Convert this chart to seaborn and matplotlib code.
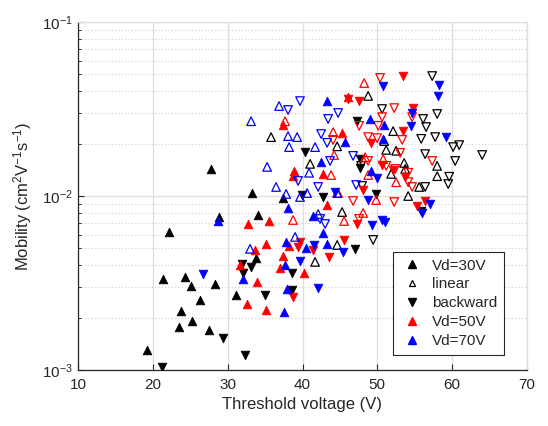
import numpy as np
import pandas as pd
import matplotlib
matplotlib.use("Agg")
import matplotlib.pyplot as plt
from matplotlib.lines import Line2D
from matplotlib.ticker import LogLocator, FixedLocator, NullFormatter, FuncFormatter
import seaborn as sns

# ---------------- data (threshold voltage [V], mobility [cm2/Vs]) ----------------
# Vd = 30 V, black
k_fwd_v = [27.74, 28.89, 22.21, 21.32, 24.26, 25.11, 28.28, 26.27, 23.77, 25.24, 23.54, 27.47, 19.18, 33.22, 34.02, 33.73, 31.06, 37.37]
k_fwd_m = [0.0143, 0.00755, 0.00621, 0.00333, 0.00341, 0.00305, 0.00313, 0.00254, 0.00217, 0.00192, 0.00176, 0.00170, 0.00130, 0.01044, 0.00781, 0.00443, 0.00270, 0.00977]
k_lin_v = [48.77, 52.11, 50.91, 51.18, 52.51, 53.58, 53.72, 51.84, 57.99, 58.0, 55.59, 54.12, 35.80, 44.63, 41.02, 45.29, 44.63, 41.68]
k_lin_m = [0.0376, 0.0236, 0.0207, 0.0184, 0.0182, 0.0155, 0.0143, 0.0134, 0.0149, 0.0130, 0.01127, 0.0100, 0.0218, 0.0193, 0.0153, 0.00809, 0.00523, 0.00418]
k_bwd_v = [29.39, 21.23, 31.89, 33.09, 32.02, 34.96, 32.33, 39.95, 42.75, 38.61, 38.61, 47.03, 49.84, 47.30, 40.35, 47.70, 47.70, 55.86]
k_bwd_m = [0.00153, 0.00104, 0.00407, 0.00390, 0.00360, 0.00270, 0.00122, 0.01013, 0.00987, 0.00361, 0.00288, 0.00497, 0.01027, 0.0269, 0.0179, 0.0163, 0.0145, 0.0082]
k_lbw_v = [50.64, 57.33, 58.0, 56.12, 56.52, 55.86, 57.73, 60.13, 60.94, 64.01, 56.39, 60.40, 59.60, 59.47, 56.39, 47.97, 49.44, 47.83]
k_lbw_m = [0.0316, 0.0489, 0.0296, 0.0277, 0.0249, 0.0213, 0.0218, 0.0191, 0.0196, 0.0172, 0.0174, 0.0159, 0.0129, 0.01172, 0.01127, 0.01142, 0.00559, 0.0149]

# Vd = 50 V, red
r_fwd_v = [35.09, 33.62, 31.66, 33.89, 32.55, 35.17, 32.77, 35.57, 38.25, 37.37, 37.01, 40.21, 43.26, 37.41, 38.88, 38.74, 42.75, 45.27, 46.10]
r_fwd_m = [0.00528, 0.00490, 0.00400, 0.00322, 0.00241, 0.00220, 0.00687, 0.00718, 0.00518, 0.00454, 0.00388, 0.00363, 0.00888, 0.0256, 0.0139, 0.0130, 0.0134, 0.0230, 0.0371]
r_lin_v = [37.67, 44.09, 44.22, 43.82, 48.77, 48.37, 48.24, 44.76, 49.84, 48.10, 45.56, 38.74, 50.78, 52.51]
r_lin_m = [0.0269, 0.0233, 0.0172, 0.0132, 0.0132, 0.0167, 0.0446, 0.0104, 0.00948, 0.00799, 0.00718, 0.00728, 0.0163, 0.0120]
r_bwd_v = [46.07, 47.57, 49.17, 53.45, 54.79, 53.45, 50.64, 53.72, 56.39, 55.32, 48.07, 47.30, 45.56, 39.67, 39.41, 41.42, 43.53, 38.74, 52.11]
r_bwd_m = [0.0361, 0.0351, 0.0202, 0.0489, 0.0320, 0.0236, 0.0151, 0.0129, 0.00936, 0.00876, 0.01082, 0.00690, 0.00559, 0.00545, 0.00510, 0.00490, 0.00446, 0.00263, 0.0141]
r_lbw_v = [50.37, 50.64, 52.25, 47.57, 50.11, 44.09, 48.77, 49.97, 54.65, 53.32, 53.05, 51.18, 52.38, 54.12, 54.65, 57.33, 52.25, 46.76, 47.57, 48.77, 54.12]
r_lbw_m = [0.0477, 0.0284, 0.0320, 0.0253, 0.0253, 0.0210, 0.0218, 0.0215, 0.0284, 0.0210, 0.0177, 0.0149, 0.0143, 0.0120, 0.01127, 0.0159, 0.00923, 0.00936, 0.00738, 0.0159, 0.0136]

# Vd = 70 V, blue
b_fwd_v = [28.68, 32.02, 37.54, 37.98, 37.67, 40.48, 37.81, 43.33, 42.71, 38.12, 41.42, 42.49, 49.17, 45.70, 43.29, 49.04, 50.91, 50.78]
b_fwd_m = [0.00716, 0.00335, 0.00215, 0.00292, 0.00402, 0.00500, 0.00541, 0.00528, 0.00615, 0.00857, 0.00768, 0.0157, 0.0139, 0.0205, 0.0351, 0.0277, 0.0256, 0.0213]
b_lin_v = [35.27, 32.99, 33.13, 36.87, 38.07, 39.28, 38.21, 40.88, 36.47, 37.81, 39.01, 41.68, 39.67, 40.61, 44.63, 42.09]
b_lin_m = [0.0147, 0.00497, 0.0269, 0.0329, 0.0221, 0.0218, 0.0191, 0.0136, 0.01127, 0.01027, 0.00582, 0.0191, 0.00987, 0.0104, 0.0104, 0.00788]
b_bwd_v = [26.75, 41.55, 45.40, 39.67, 42.09, 44.36, 48.77, 49.30, 50.64, 51.04, 50.78, 58.24, 58.13, 54.65, 54.52, 59.20, 57.06, 55.99, 49.97]
b_bwd_m = [0.00357, 0.00523, 0.00477, 0.00423, 0.00296, 0.0106, 0.00948, 0.00681, 0.00728, 0.00709, 0.0428, 0.0434, 0.0376, 0.0300, 0.0253, 0.0218, 0.00900, 0.00799, 0.0127]
b_lbw_v = [39.67, 38.07, 44.76, 43.42, 42.49, 43.29, 46.76, 43.69, 39.41, 42.09, 47.17, 42.36, 43.02]
b_lbw_m = [0.0351, 0.0312, 0.0300, 0.0277, 0.0227, 0.0202, 0.0170, 0.0159, 0.0122, 0.01127, 0.01157, 0.00738, 0.00690]

legend_labels = ["Vd=30V", "linear", "backward", "Vd=50V", "Vd=70V"]
x_ticks = [10, 20, 30, 40, 50, 60, 70]

# ---------------- style ----------------
sns.set_style("white")
plt.rcParams["font.family"] = ["Liberation Sans", "DejaVu Sans"]
plt.rcParams["mathtext.fontset"] = "custom"
plt.rcParams["mathtext.rm"] = "Liberation Sans"
plt.rcParams["mathtext.it"] = "Liberation Sans:italic"
plt.rcParams["mathtext.default"] = "regular"

fig = plt.figure(figsize=(5.48, 4.26), dpi=100)
ax = fig.add_axes([78 / 548, 1 - 370 / 426, 449 / 548, 348 / 426])
ax.set_yscale("log")

BLACK, RED, BLUE = "#000000", "#ff0000", "#0000ff"
S = 38
series = [
    (k_fwd_v, k_fwd_m, "^", BLACK, True),
    (k_lin_v, k_lin_m, "^", BLACK, False),
    (k_bwd_v, k_bwd_m, "v", BLACK, True),
    (k_lbw_v, k_lbw_m, "v", BLACK, False),
    (r_fwd_v, r_fwd_m, "^", RED, True),
    (r_lin_v, r_lin_m, "^", RED, False),
    (r_bwd_v, r_bwd_m, "v", RED, True),
    (r_lbw_v, r_lbw_m, "v", RED, False),
    (b_fwd_v, b_fwd_m, "^", BLUE, True),
    (b_lin_v, b_lin_m, "^", BLUE, False),
    (b_bwd_v, b_bwd_m, "v", BLUE, True),
    (b_lbw_v, b_lbw_m, "v", BLUE, False),
]
for xv, yv, mk, col, filled in series:
    df = pd.DataFrame({"Vth": xv, "mu": yv})
    if filled:
        sns.scatterplot(data=df, x="Vth", y="mu", marker=mk, s=S, color=col,
                        edgecolor=col, linewidth=0.6, ax=ax, legend=False, zorder=3)
    else:
        sns.scatterplot(data=df, x="Vth", y="mu", marker=mk, s=S, color=col,
                        facecolor="none", edgecolor=col, linewidth=0.9, ax=ax,
                        legend=False, zorder=3)

ax.set_xlim(10, 70)
ax.set_ylim(1e-3, 1e-1)
ax.xaxis.set_major_locator(FixedLocator(x_ticks))
ax.yaxis.set_major_locator(LogLocator(base=10, numticks=10))
ax.yaxis.set_minor_locator(LogLocator(base=10, subs=np.arange(2, 10), numticks=20))
ax.yaxis.set_minor_formatter(NullFormatter())
ax.yaxis.set_major_formatter(FuncFormatter(lambda v, p: "$10^{%d}$" % int(round(np.log10(v)))))

# grid, MATLAB-like
ax.grid(True, which="major", axis="both", color="#dedede", linewidth=0.9, linestyle="-")
ax.grid(True, which="minor", axis="y", color="#cfcfcf", linewidth=0.8, linestyle=(0, (1, 2)))
ax.set_axisbelow(True)

for side in ["left", "bottom"]:
    ax.spines[side].set_color("#262626")
    ax.spines[side].set_linewidth(0.9)
for side in ["top", "right"]:
    ax.spines[side].set_color("#dedede")
    ax.spines[side].set_linewidth(0.9)

ax.tick_params(axis="both", which="both", direction="in", colors="#262626",
               labelsize=11, top=False, right=False, left=True, bottom=True)
ax.tick_params(axis="both", which="major", length=4, width=0.8)
ax.tick_params(axis="y", which="minor", length=2.5, width=0.7)
ax.tick_params(axis="x", which="major", pad=6)

ax.set_xlabel("Threshold voltage (V)", fontsize=12, color="#262626", labelpad=3)
ax.set_ylabel("Mobility (cm$^{2}$V$^{-1}$s$^{-1}$)", fontsize=12, color="#262626", labelpad=6)

handles = [
    Line2D([], [], linestyle="none", marker="^", markersize=6, color=BLACK),
    Line2D([], [], linestyle="none", marker="^", markersize=5, markerfacecolor="none",
           markeredgecolor=BLACK, markeredgewidth=0.9),
    Line2D([], [], linestyle="none", marker="v", markersize=6, color=BLACK),
    Line2D([], [], linestyle="none", marker="^", markersize=6, color=RED),
    Line2D([], [], linestyle="none", marker="^", markersize=6, color=BLUE),
]
leg = ax.legend(handles, legend_labels, loc="lower right",
                bbox_to_anchor=(0.9488, 0.043), borderaxespad=0, fontsize=11,
                frameon=True, fancybox=False, edgecolor="#262626",
                labelspacing=0.32, handletextpad=0.5, handlelength=1.6,
                borderpad=0.45)
leg.get_frame().set_linewidth(0.8)
leg.get_frame().set_facecolor("white")
leg.get_frame().set_alpha(1)
leg.set_zorder(5)

fig.savefig("out.png", dpi=100)
